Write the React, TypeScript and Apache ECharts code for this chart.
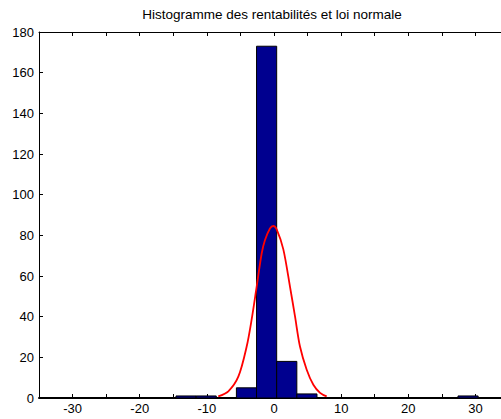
import React, { useEffect, useRef } from "react";
import * as echarts from "echarts";

const titleText = "Histogramme des rentabilités et loi normale";
const binStarts = [-14.6, -11.6, -8.6, -5.6, -2.6, 0.4, 3.4, 6.4, 9.4, 12.4, 15.4, 18.4, 21.4, 24.4, 27.4];
const binEnds = [-11.6, -8.6, -5.6, -2.6, 0.4, 3.4, 6.4, 9.4, 12.4, 15.4, 18.4, 21.4, 24.4, 27.4, 30.4];
const binCounts = [1, 1, 0, 5, 173, 18, 2, 0, 0, 0, 0, 0, 0, 0, 1];
const curveX = [-8.3, -6.8, -5.3, -4.07, -3.34, -2.58, -1.83, -1.34, -0.6, -0.1, 0.4, 1.39, 2.38, 3.13, 3.87, 4.87, 5.86, 6.86, 7.85];
const curveY = [0.8, 3.3, 10.6, 25.3, 38.4, 54.8, 71.2, 77.7, 83.4, 84.6, 82.9, 73.1, 54.8, 40.1, 25.3, 13.9, 6.5, 2.5, 0.8];

const FONT = "'Liberation Sans', Arial, Helvetica, sans-serif";

export default function App() {
  const ref = useRef<HTMLDivElement>(null);
  useEffect(() => {
    if (!ref.current) return;
    const chart = echarts.init(ref.current, null, { renderer: "svg" });
    const bars = binStarts.map((s, i) => [s, binEnds[i], binCounts[i]]);
    const curve = curveX.map((x, i) => [x, curveY[i]]);
    const tickEvery10 = (i: number, v: any) => Math.abs(Number(v)) % 10 === 0;
    chart.setOption({
      animation: false,
      backgroundColor: "#ffffff",
      graphic: [
        {
          type: "text",
          x: 272,
          y: 14,
          style: {
            text: titleText,
            textAlign: "center",
            textVerticalAlign: "middle",
            fontFamily: FONT,
            fontSize: 13.5,
            fill: "#000",
          },
        },
      ],
      grid: { left: 39, top: 32, right: 11, bottom: 21, containLabel: false },
      xAxis: [
        {
          type: "value",
          min: -35,
          max: 35,
          interval: 5,
          position: "bottom",
          axisLine: { show: true, onZero: false, lineStyle: { color: "#000", width: 2 } },
          axisTick: { show: true, inside: true, length: 4, lineStyle: { color: "#000", width: 1 }, interval: tickEvery10 },
          axisLabel: {
            show: true,
            color: "#000",
            fontFamily: FONT,
            fontSize: 13,
            margin: 4,
            formatter: (v: number) => (Math.abs(v) % 10 === 0 && Math.abs(v) < 35 ? String(v) : ""),
          },
          splitLine: { show: false },
        },
        {
          type: "value",
          min: -35,
          max: 35,
          interval: 5,
          position: "top",
          axisLine: { show: true, onZero: false, lineStyle: { color: "#000", width: 1 } },
          axisTick: { show: true, inside: true, length: 4, lineStyle: { color: "#000", width: 1 }, interval: tickEvery10 },
          axisLabel: { show: false },
          splitLine: { show: false },
        },
      ],
      yAxis: {
        type: "value",
        min: 0,
        max: 180,
        interval: 20,
        axisLine: { show: true, onZero: false, lineStyle: { color: "#000", width: 1 } },
        axisTick: { show: true, inside: true, length: 4, lineStyle: { color: "#000" } },
        axisLabel: { color: "#000", fontFamily: FONT, fontSize: 13, margin: 5 },
        splitLine: { show: false },
      },
      series: [
        {
          type: "custom",
          xAxisIndex: 0,
          data: bars,
          z: 2,
          renderItem: (params: any, api: any) => {
            const s = api.value(0);
            const e = api.value(1);
            const c = api.value(2);
            if (c <= 0) return null;
            const p0 = api.coord([s, c]);
            const p1 = api.coord([e, 0]);
            return {
              type: "rect",
              shape: { x: p0[0], y: p0[1], width: p1[0] - p0[0], height: p1[1] - p0[1] },
              style: { fill: "#00008F", stroke: "#000000", lineWidth: 1 },
            };
          },
        },
        {
          type: "line",
          xAxisIndex: 0,
          data: curve,
          showSymbol: false,
          symbol: "none",
          smooth: 0.3,
          z: 5,
          lineStyle: { color: "#FF0000", width: 1.8 },
        },
      ],
    });
    return () => chart.dispose();
  }, []);
  return (
    <div style={{ position: "absolute", left: 0, top: 0, width: 501, height: 419, overflow: "hidden", background: "#fff" }}>
      <div ref={ref} style={{ width: 520, height: 419 }} />
    </div>
  );
}
